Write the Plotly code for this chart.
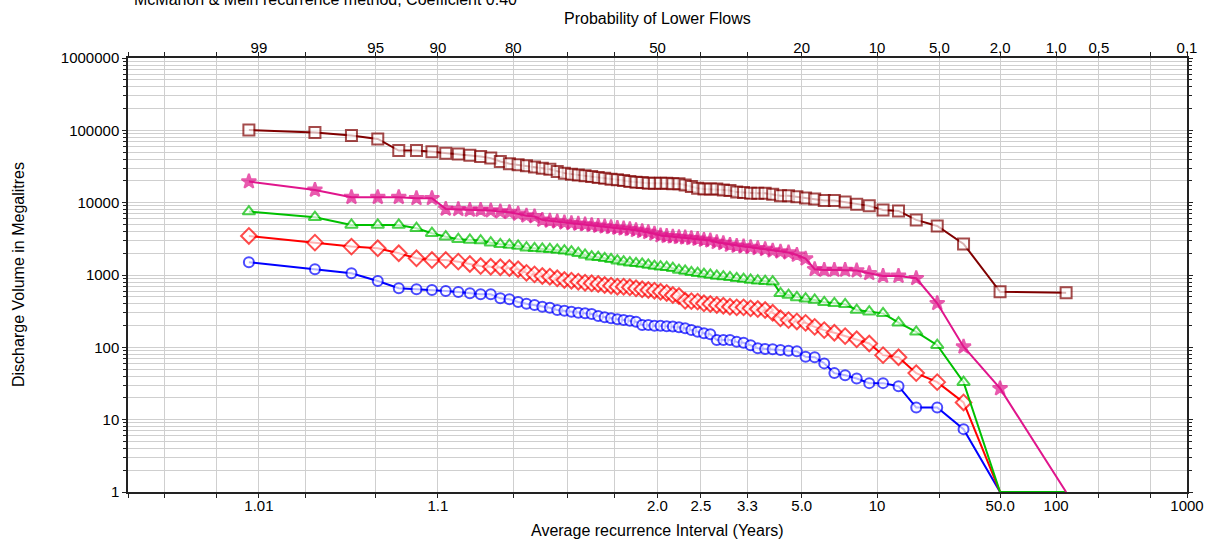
import plotly.graph_objects as go
from statistics import NormalDist

# ---------------- data ----------------
N_YEARS = 70          # years of record (ranks 1..70)
COEF = 0.40           # McMahon & Mein plotting-position coefficient

# values (Megalitres) ordered from left (highest) to right (lowest); 0 = no flow
series_names = ["Series 1", "Series 2", "Series 3", "Series 4", "Series 5"]

brown = [101000, 93000, 85000, 76000, 52600, 52600, 50500, 48400, 46900, 45400,
         43500, 41300, 37100, 34500, 33400, 32500, 31000, 30000, 29000, 26900,
         25600, 24800, 24200, 23500, 23000, 22300, 21800, 21100, 20700, 20200,
         19600, 19200, 19000, 18600, 18600, 18600, 18600, 18200, 18200, 17600,
         16700, 15800, 15500, 15400, 15400, 15000, 14700, 14000, 13800, 13500,
         13500, 13500, 13100, 12500, 12500, 12100, 11600, 11200, 10700, 10700,
         10200, 9530, 9030, 7940, 7690, 5780, 4770, 2690, 587, 569]

magenta = [19600, 15000, 11900, 11900, 11900, 11500, 11500, 8200, 8100, 7940,
           7940, 7770, 7520, 7380, 7000, 6600, 6450, 5780, 5600, 5470,
           5300, 5200, 5090, 4980, 4880, 4770, 4670, 4570, 4480, 4380,
           4290, 4160, 4030, 3900, 3730, 3520, 3450, 3390, 3330, 3290,
           3220, 3150, 3050, 2990, 2840, 2750, 2600, 2520, 2470, 2420,
           2340, 2270, 2170, 2100, 2040, 1890, 1680, 1200, 1170, 1170,
           1170, 1150, 1057, 969, 969, 900, 406, 102, 27, 0]

green = [7520, 6290, 4920, 4920, 4920, 4430, 3780, 3390, 3120, 3050,
         2990, 2800, 2660, 2600, 2520, 2380, 2340, 2300, 2270, 2220,
         2170, 2100, 2000, 1890, 1790, 1760, 1700, 1650, 1580, 1530,
         1480, 1450, 1420, 1380, 1330, 1300, 1280, 1240, 1170, 1140,
         1090, 1060, 1030, 1000, 970, 950, 930, 900, 880, 853,
         834, 820, 808, 558, 528, 490, 470, 451, 419, 406,
         393, 328, 311, 295, 219, 164, 107, 33, 0, 0]

red = [3470, 2800, 2470, 2340, 2000, 1700, 1610, 1610, 1530, 1420,
       1330, 1300, 1280, 1250, 1200, 1070, 1020, 969, 948, 900,
       853, 834, 808, 783, 767, 751, 727, 711, 689, 689,
       676, 655, 634, 621, 607, 587, 565, 529, 512, 440,
       435, 428, 406, 397, 385, 376, 364, 357, 357, 346,
       338, 328, 301, 252, 238, 228, 218, 192, 173, 159,
       143, 129, 113, 78, 73, 44, 33, 17.3, 0, 0]

blue = [1500, 1200, 1060, 826, 655, 634, 620, 601, 582, 558,
        541, 541, 476, 461, 423, 400, 385, 364, 353, 328,
        321, 311, 301, 295, 289, 271, 260, 252, 244, 238,
        233, 226, 203, 203, 199, 198, 196, 194, 190, 183,
        173, 164, 156, 152, 126, 126, 126, 119, 116, 107,
        97, 95, 94, 92, 90, 88, 74, 73, 60, 44,
        41, 37, 32, 32, 29, 14.7, 14.7, 7.4, 0, 0]

# probability-of-lower-flows grid (percent) with top / bottom labels
grid_prob = [99.9, 99.8, 99.5, 99, 98, 95, 90, 80, 70, 60, 50, 40, 30, 20, 10, 5, 2, 1, 0.5, 0.2, 0.1]
top_labels = ["", "", "", "99", "", "95", "90", "80", "", "", "50", "", "", "20", "10", "5.0", "2.0", "1.0", "0.5", "", "0.1"]
bottom_labels = ["", "", "", "1.01", "", "", "1.1", "", "", "", "2.0", "2.5", "3.3", "5.0", "10", "", "50.0", "100", "", "", "1000"]

y_tick_vals = [1, 10, 100, 1000, 10000, 100000, 1000000]
y_tick_text = ["1", "10", "100", "1000", "10000", "100000", "1000000"]

# ---------------- scale helpers ----------------
ND = NormalDist()


def z_from_prob(p_pct):
    # the source program draws the "2.0 %" line at a standard variate of 2.0
    if p_pct == 2:
        return 2.0
    return ND.inv_cdf(1 - p_pct / 100.0)


def recurrence(rank):
    q = (rank - COEF) / (N_YEARS + 1 - 2 * COEF)
    return 1.0 / (1.0 - q)


def z_from_T(T):
    return ND.inv_cdf(1 - 1.0 / T)


ranks = list(range(1, N_YEARS + 1))
T_vals = [recurrence(r) for r in ranks]
x_vals = [z_from_T(t) for t in T_vals]

grid_z = [z_from_prob(p) for p in grid_prob]
x_range = [ND.inv_cdf(0.001), ND.inv_cdf(0.999)]

FONT = "Liberation Sans, Arial, sans-serif"
TITLE_SIZE = 16
TICK_SIZE = 15

styles = [
    (blue, "#0000FF", "circle", 10, "white"),
    (red, "#FF0000", "diamond", 12, "white"),
    (green, "#00C000", "triangle-up", 11, "white"),
    (magenta, "#E0158C", "star", 11, "#E0158C"),
    (brown, "#800000", "square", 11, "white"),
]

fig = go.Figure()
for (vals, col, sym, size, fill), name in zip(styles, series_names):
    yv = [v if v > 0 else 1 for v in vals]
    sz = [size if v > 0 else 0 for v in vals]
    fig.add_trace(go.Scatter(
        x=x_vals, y=yv, mode="lines+markers", name=name,
        customdata=T_vals,
        line=dict(color=col, width=2),
        marker=dict(symbol=sym, size=sz, color=fill, line=dict(color=col, width=2)),
        cliponaxis=False,
        hovertemplate="T=%{customdata:.2f}<br>%{y}<extra></extra>",
    ))

# carrier trace for the top / right axes
fig.add_trace(go.Scatter(x=[], y=[], xaxis="x2", yaxis="y2", showlegend=False, hoverinfo="skip"))

axis_common = dict(showline=True, linecolor="#222222", linewidth=1.5, ticks="outside",
                   tickcolor="#222222", ticklen=4, tickwidth=1, automargin=False,
                   tickfont=dict(family=FONT, size=TICK_SIZE, color="black"), zeroline=False)

fig.update_layout(
    width=1208, height=543,
    margin=dict(l=128, r=21, t=58, b=51, autoexpand=False),
    paper_bgcolor="white", plot_bgcolor="white",
    showlegend=False,
    font=dict(family=FONT, size=TICK_SIZE, color="black"),
    xaxis=dict(range=x_range, tickmode="array", tickvals=grid_z, ticktext=bottom_labels,
               showgrid=True, gridcolor="#CFCFCF", gridwidth=1, ticklabelstandoff=-5,
               layer="below traces", **axis_common),
    xaxis2=dict(range=x_range, overlaying="x", side="top", anchor="y", tickmode="array",
                tickvals=grid_z, ticktext=top_labels, showgrid=False, ticklabelstandoff=-7,
                **axis_common),
    yaxis=dict(type="log", range=[0, 6], tickmode="array", tickvals=y_tick_vals, ticktext=y_tick_text,
               showgrid=True, gridcolor="#CFCFCF", gridwidth=1,
               minor=dict(dtick="D1", showgrid=True, gridcolor="#CFCFCF", gridwidth=1,
                          ticks="outside", ticklen=3, tickcolor="#222222"),
               **axis_common),
    yaxis2=dict(type="log", range=[0, 6], overlaying="y", side="right", anchor="x",
                tickmode="array", tickvals=y_tick_vals, showticklabels=False, showgrid=False,
                minor=dict(dtick="D1", ticks="outside", ticklen=3, tickcolor="#222222"),
                **axis_common),
    annotations=[
        dict(text="Average recurrence Interval (Years)", xref="paper", yref="paper", x=0.5, y=0,
             xanchor="center", yanchor="middle", yshift=-38, showarrow=False,
             font=dict(family=FONT, size=TITLE_SIZE)),
        dict(text="Probability of Lower Flows", xref="paper", yref="paper", x=0.5, y=1,
             xanchor="center", yanchor="middle", yshift=40, showarrow=False,
             font=dict(family=FONT, size=TITLE_SIZE)),
        dict(text="Discharge Volume in Megalitres", xref="paper", yref="paper", x=0, y=0.5,
             xanchor="center", yanchor="middle", xshift=-110, textangle=-90, showarrow=False,
             font=dict(family=FONT, size=TITLE_SIZE)),
        dict(text="McMahon &amp; Mein recurrence method, Coefficient 0.40", xref="paper", yref="paper",
             x=0, y=1, xanchor="left", yanchor="middle", xshift=4, yshift=59, showarrow=False,
             font=dict(family=FONT, size=TITLE_SIZE)),
    ],
)

fig.write_html("out.html", config={"displayModeBar": False},
               post_script="document.body.style.margin='0px';")
